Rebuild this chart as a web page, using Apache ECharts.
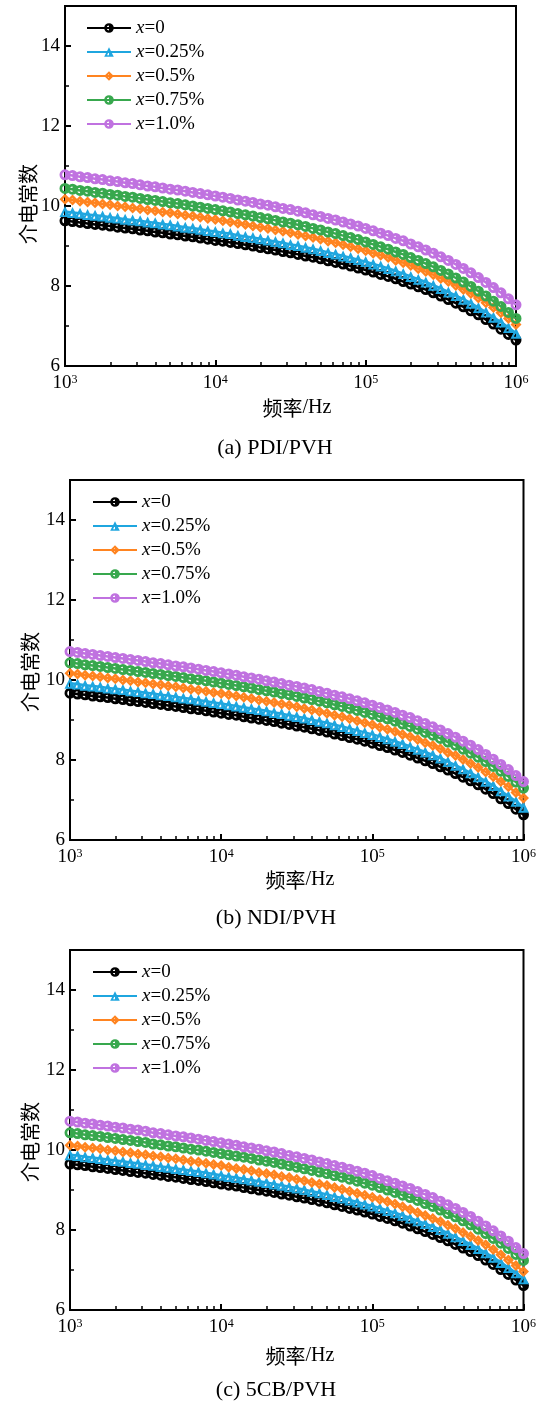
<!DOCTYPE html>
<html><head><meta charset="utf-8">
<script src="https://cdn.jsdelivr.net/npm/echarts@6/dist/echarts.min.js"></script>
<style>html,body{margin:0;padding:0;background:#fff}#c{width:539px;height:1401px}</style>
</head><body><div id="c"></div>
<script>
// Frequencies (Hz), log-spaced measurement points
const freq = [1000,1122,1259,1413,1585,1778,1995,2239,2512,2818,3162,3548,3981,4467,5012,5623,6310,7079,7943,8913,
10000,11220,12589,14125,15849,17783,19953,22387,25119,28184,31623,35481,39811,44668,50119,56234,63096,70795,79433,89125,
100000,112202,125893,141254,158489,177828,199526,223872,251189,281838,316228,354813,398107,446684,501187,562341,630957,707946,794328,891251,1000000];

const seriesNames = ['x=0','x=0.25%','x=0.5%','x=0.75%','x=1.0%'];
const xMajorLabels = ['10^3','10^4','10^5','10^6'];
const xMinorTicks = [2000,3000,4000,5000,6000,7000,8000,9000,20000,30000,40000,50000,60000,70000,80000,90000,200000,300000,400000,500000,600000,700000,800000,900000];
const panelCaptions = ['(a) PDI/PVH','(b) NDI/PVH','(c) 5CB/PVH'];

// (a) PDI/PVH
const Ka = [9.63,9.61,9.59,9.56,9.54,9.52,9.50,9.47,9.45,9.43,
9.40,9.38,9.35,9.33,9.30,9.28,9.25,9.23,9.20,9.17,
9.14,9.12,9.09,9.06,9.03,9.00,8.96,8.93,8.90,8.86,
8.83,8.79,8.75,8.72,8.68,8.63,8.59,8.55,8.50,8.45,
8.40,8.35,8.29,8.24,8.18,8.11,8.05,7.98,7.91,7.83,
7.75,7.66,7.57,7.48,7.38,7.28,7.16,7.05,6.92,6.79,6.65];
const Ba = [9.86,9.84,9.82,9.79,9.77,9.75,9.72,9.70,9.67,9.65,
9.63,9.60,9.58,9.55,9.53,9.50,9.47,9.45,9.42,9.39,
9.36,9.33,9.31,9.27,9.24,9.21,9.18,9.15,9.11,9.08,
9.04,9.01,8.97,8.93,8.89,8.84,8.80,8.75,8.71,8.66,
8.61,8.55,8.50,8.44,8.38,8.31,8.24,8.17,8.10,8.02,
7.94,7.85,7.76,7.67,7.57,7.46,7.35,7.22,7.10,6.96,6.82];
const Oa = [10.17,10.15,10.12,10.10,10.08,10.05,10.03,10.00,9.98,9.95,
9.93,9.90,9.88,9.85,9.83,9.80,9.77,9.75,9.72,9.69,
9.66,9.63,9.60,9.57,9.54,9.50,9.47,9.44,9.40,9.37,
9.33,9.29,9.25,9.21,9.17,9.12,9.08,9.03,8.98,8.93,
8.88,8.82,8.77,8.71,8.64,8.58,8.51,8.43,8.36,8.28,
8.19,8.11,8.01,7.91,7.81,7.70,7.58,7.46,7.33,7.19,7.04];
const Ga = [10.44,10.42,10.39,10.37,10.34,10.32,10.29,10.27,10.24,10.22,
10.19,10.16,10.14,10.11,10.08,10.06,10.03,10.00,9.97,9.94,
9.91,9.88,9.85,9.81,9.78,9.75,9.71,9.68,9.64,9.60,
9.57,9.53,9.49,9.44,9.40,9.35,9.31,9.26,9.21,9.16,
9.10,9.04,8.98,8.92,8.85,8.79,8.71,8.64,8.56,8.48,
8.39,8.30,8.20,8.10,7.99,7.87,7.75,7.62,7.49,7.34,7.19];
const Pa = [10.78,10.76,10.73,10.71,10.68,10.66,10.63,10.61,10.58,10.56,
10.53,10.50,10.48,10.45,10.42,10.40,10.37,10.34,10.31,10.28,
10.25,10.22,10.19,10.15,10.12,10.09,10.05,10.02,9.98,9.94,
9.91,9.87,9.83,9.78,9.74,9.69,9.65,9.60,9.55,9.50,
9.44,9.38,9.32,9.26,9.19,9.13,9.05,8.98,8.90,8.82,
8.73,8.64,8.54,8.44,8.33,8.21,8.09,7.96,7.83,7.68,7.53];

// (b) NDI/PVH
const Kb = [9.67,9.65,9.63,9.60,9.58,9.56,9.53,9.51,9.48,9.46,
9.44,9.41,9.39,9.36,9.34,9.31,9.28,9.26,9.23,9.20,
9.17,9.14,9.12,9.08,9.05,9.02,8.99,8.96,8.92,8.89,
8.85,8.82,8.78,8.74,8.70,8.65,8.61,8.56,8.52,8.47,
8.42,8.36,8.31,8.25,8.19,8.12,8.05,7.98,7.91,7.83,
7.75,7.66,7.57,7.48,7.38,7.27,7.16,7.03,6.91,6.77,6.63];
const Bb = [9.92,9.90,9.87,9.85,9.83,9.80,9.78,9.76,9.73,9.71,
9.68,9.66,9.63,9.61,9.58,9.55,9.53,9.50,9.47,9.44,
9.41,9.38,9.35,9.32,9.29,9.26,9.23,9.19,9.16,9.12,
9.09,9.05,9.01,8.97,8.93,8.88,8.84,8.79,8.74,8.69,
8.64,8.59,8.53,8.47,8.41,8.34,8.27,8.20,8.13,8.05,
7.96,7.87,7.78,7.68,7.58,7.47,7.36,7.23,7.10,6.97,6.82];
const Ob = [10.17,10.15,10.12,10.10,10.08,10.05,10.03,10.00,9.98,9.95,
9.93,9.90,9.88,9.85,9.83,9.80,9.77,9.75,9.72,9.69,
9.66,9.63,9.60,9.57,9.54,9.50,9.47,9.44,9.40,9.37,
9.33,9.29,9.25,9.21,9.17,9.12,9.08,9.03,8.98,8.93,
8.88,8.82,8.77,8.71,8.64,8.58,8.51,8.43,8.36,8.28,
8.19,8.11,8.01,7.91,7.81,7.70,7.58,7.46,7.33,7.19,7.05];
const Gb = [10.43,10.41,10.38,10.36,10.34,10.31,10.29,10.26,10.24,10.21,
10.19,10.16,10.14,10.11,10.09,10.06,10.03,10.01,9.98,9.95,
9.92,9.89,9.86,9.83,9.80,9.76,9.73,9.70,9.66,9.63,
9.59,9.55,9.51,9.47,9.43,9.38,9.34,9.29,9.24,9.19,
9.14,9.08,9.03,8.97,8.90,8.84,8.77,8.69,8.62,8.54,
8.45,8.37,8.27,8.17,8.07,7.96,7.84,7.72,7.59,7.45,7.30];
const Pb = [10.71,10.69,10.66,10.64,10.61,10.59,10.56,10.54,10.51,10.49,
10.46,10.43,10.41,10.38,10.35,10.33,10.30,10.27,10.24,10.21,
10.18,10.15,10.12,10.08,10.05,10.02,9.98,9.95,9.91,9.87,
9.84,9.80,9.76,9.71,9.67,9.62,9.58,9.53,9.48,9.43,
9.37,9.31,9.25,9.19,9.12,9.06,8.98,8.91,8.83,8.75,
8.66,8.57,8.47,8.37,8.26,8.14,8.02,7.89,7.76,7.61,7.46];

// (c) 5CB/PVH
const Kc = [9.65,9.63,9.61,9.58,9.56,9.54,9.51,9.49,9.46,9.44,
9.42,9.39,9.37,9.34,9.32,9.29,9.26,9.24,9.21,9.18,
9.15,9.12,9.10,9.06,9.03,9.00,8.97,8.94,8.90,8.87,
8.83,8.80,8.76,8.72,8.68,8.63,8.59,8.54,8.50,8.45,
8.40,8.34,8.29,8.23,8.17,8.10,8.03,7.96,7.89,7.81,
7.73,7.64,7.55,7.46,7.36,7.25,7.14,7.01,6.89,6.75,6.61];
const Bc = [9.88,9.86,9.83,9.81,9.79,9.76,9.74,9.72,9.69,9.67,
9.64,9.62,9.59,9.57,9.54,9.51,9.49,9.46,9.43,9.40,
9.37,9.34,9.31,9.28,9.25,9.22,9.19,9.15,9.12,9.08,
9.05,9.01,8.97,8.93,8.89,8.84,8.80,8.75,8.70,8.65,
8.60,8.55,8.49,8.43,8.37,8.30,8.23,8.16,8.09,8.01,
7.92,7.83,7.74,7.64,7.54,7.43,7.32,7.19,7.06,6.93,6.78];
const Oc = [10.12,10.10,10.07,10.05,10.03,10.00,9.98,9.95,9.93,9.90,
9.88,9.85,9.83,9.80,9.78,9.75,9.72,9.70,9.67,9.64,
9.61,9.57,9.54,9.51,9.48,9.44,9.41,9.38,9.34,9.31,
9.27,9.23,9.19,9.15,9.11,9.06,9.02,8.97,8.92,8.87,
8.82,8.76,8.71,8.65,8.58,8.51,8.44,8.36,8.29,8.21,
8.12,8.04,7.94,7.84,7.74,7.63,7.51,7.38,7.25,7.11,6.96];
const Gc = [10.43,10.41,10.38,10.36,10.34,10.31,10.29,10.26,10.24,10.21,
10.19,10.15,10.13,10.10,10.08,10.05,10.02,10.00,9.97,9.94,
9.91,9.88,9.85,9.82,9.79,9.75,9.72,9.69,9.65,9.61,
9.57,9.53,9.49,9.45,9.41,9.36,9.32,9.27,9.22,9.17,
9.12,9.06,9.00,8.94,8.87,8.81,8.74,8.66,8.59,8.50,
8.41,8.33,8.23,8.13,8.02,7.91,7.79,7.67,7.54,7.39,7.24];
const Pc = [10.72,10.70,10.67,10.65,10.62,10.60,10.57,10.55,10.52,10.50,
10.47,10.43,10.41,10.38,10.35,10.33,10.30,10.27,10.24,10.21,
10.18,10.15,10.12,10.08,10.05,10.02,9.98,9.95,9.91,9.86,
9.83,9.79,9.75,9.70,9.66,9.61,9.57,9.52,9.47,9.42,
9.36,9.29,9.23,9.17,9.10,9.04,8.96,8.89,8.81,8.72,
8.63,8.54,8.44,8.34,8.22,8.10,7.98,7.85,7.72,7.56,7.41];

const panelData = [[Ka,Ba,Oa,Ga,Pa],[Kb,Bb,Ob,Gb,Pb],[Kc,Bc,Oc,Gc,Pc]];

// ---- styling ----
const SERIF = '"Liberation Serif","Times New Roman",serif';
const CJK = '"Noto Sans CJK SC","Noto Sans CJK JP",sans-serif';
const colors = ['#000000','#1FA6DF','#FF8420','#38A84E','#C072E0'];
const symbols = [
  'path://M10 0A10 10 0 1 1 10 20A10 10 0 1 1 10 0ZM10 5A5 5 0 0 0 10 15Z',
  'path://M10 0L20 18L0 18ZM10 7L6 15L10 15Z',
  'path://M10 0L20 10L10 20L0 10ZM10 6L6 10L10 14Z',
  'path://M10 0A10 10 0 1 1 10 20A10 10 0 1 1 10 0ZM10 5A5 5 0 0 0 10 15Z',
  'path://M10 0A10 10 0 1 1 10 20A10 10 0 1 1 10 0ZM10 5A5 5 0 0 0 10 15Z'
];
const layout = [
  {grid:{left:65, top:6, width:451, height:360}, legend:{left:86, top:18}, yName:[28,204], xName:[297,408], cap:[275,448]},
  {grid:{left:70, top:480, width:455, height:360}, legend:{left:92, top:492}, yName:[30,672], xName:[300,880], cap:[276,918]},
  {grid:{left:70, top:950, width:455, height:360}, legend:{left:92, top:962}, yName:[30,1142], xName:[300,1356], cap:[276,1390]}
];

const grids = [], xAxes = [], yAxes = [], legends = [], series = [], graphics = [];
const supFmt = v => { const e = Math.round(Math.log10(v)); const lab = xMajorLabels.find(s => s.endsWith('^' + e)) || ('10^' + e); const p = lab.split('^'); return '{b|' + p[0] + '}{s|' + p[1] + '}'; };

layout.forEach((L, p) => {
  grids.push(Object.assign({show:true, borderColor:'#000', borderWidth:2, backgroundColor:'#fff'}, L.grid));
  xAxes.push({
    type:'log', logBase:10, gridIndex:p, min:1000, max:1000000, position:'bottom',
    axisLine:{show:true, onZero:false, lineStyle:{color:'#000', width:2}},
    axisTick:{show:true, inside:true, length:6, lineStyle:{color:'#000', width:2}},
    axisLabel:{show:true, margin:8, formatter:supFmt, rich:{
      b:{fontSize:19, fontFamily:SERIF, color:'#000', verticalAlign:'bottom'},
      s:{fontSize:12, fontFamily:SERIF, color:'#000', verticalAlign:'top'}}},
    splitLine:{show:false}, minorTick:{show:false}
  });
  xAxes.push({
    type:'log', logBase:10, gridIndex:p, min:1000, max:1000000, position:'bottom',
    axisLine:{show:false},
    axisTick:{show:true, inside:true, length:4, customValues:xMinorTicks, lineStyle:{color:'#000', width:1.5}},
    axisLabel:{show:false}, splitLine:{show:false}
  });
  yAxes.push({
    type:'value', gridIndex:p, min:6, max:15, interval:2,
    axisLine:{show:true, lineStyle:{color:'#000', width:2}},
    axisTick:{show:true, inside:true, length:6, lineStyle:{color:'#000', width:2}},
    minorTick:{show:true, splitNumber:2, length:4, lineStyle:{color:'#000', width:1.5}},
    axisLabel:{showMaxLabel:false, margin:5, fontSize:19, fontFamily:SERIF, color:'#000'},
    splitLine:{show:false}
  });
  legends.push({
    orient:'vertical', left:L.legend.left, top:L.legend.top, padding:0, itemWidth:44, itemHeight:12, itemGap:4,
    selectedMode:false, data:seriesNames,
    formatter: n => '{i|x}{n|' + n.slice(1) + '}',
    textStyle:{color:'#000', fontSize:19, fontFamily:SERIF, lineHeight:20,
      rich:{i:{fontStyle:'italic', fontSize:19, fontFamily:SERIF, color:'#000'}, n:{fontSize:19, fontFamily:SERIF, color:'#000'}}}
  });
  panelData[p].forEach((vals, s) => {
    series.push({
      type:'line', name:seriesNames[s], xAxisIndex:2*p, yAxisIndex:p,
      data: freq.map((f, i) => [f, vals[i]]),
      symbol:symbols[s], symbolSize:11, showSymbol:true,
      lineStyle:{color:colors[s], width:2.5}, itemStyle:{color:colors[s]},
      silent:true, animation:false, z:2+s
    });
  });
  graphics.push({type:'text', x:L.yName[0], y:L.yName[1], rotation:Math.PI/2,
    style:{text:'介电常数', font:'20px ' + CJK, fill:'#000', align:'center', verticalAlign:'middle', textAlign:'center', textVerticalAlign:'middle'}});
  graphics.push({type:'text', x:L.xName[0], y:L.xName[1],
    style:{text:'{c|频率}{l|/Hz}', rich:{c:{fontSize:20, fontFamily:CJK, fill:'#000'}, l:{fontSize:20, fontFamily:SERIF, fill:'#000'}},
      fill:'#000', align:'center', verticalAlign:'middle', textAlign:'center', textVerticalAlign:'middle'}});
  graphics.push({type:'text', x:L.cap[0], y:L.cap[1],
    style:{text:panelCaptions[p], font:'22px ' + SERIF, fill:'#000', align:'center', verticalAlign:'middle', textAlign:'center', textVerticalAlign:'middle'}});
});

const chart = echarts.init(document.getElementById('c'), null, {renderer:'canvas'});
chart.setOption({
  animation:false, backgroundColor:'#fff',
  grid:grids, xAxis:xAxes, yAxis:yAxes, legend:legends, series:series, graphic:graphics
});
</script>
</body></html>
